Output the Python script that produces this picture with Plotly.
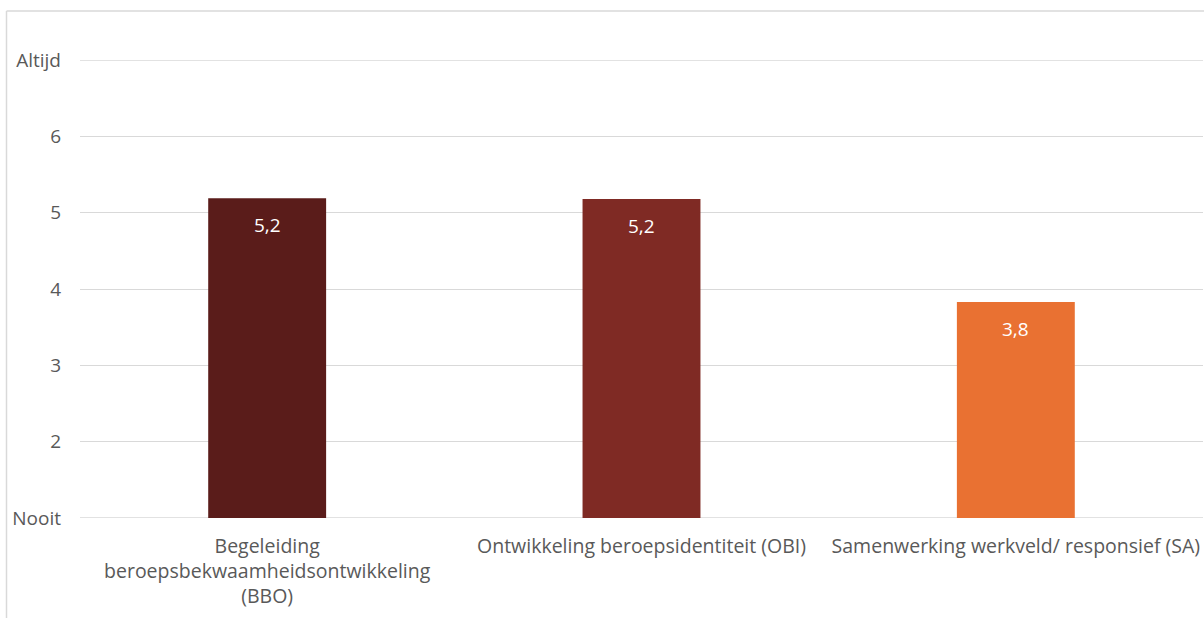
import plotly.graph_objects as go

categories = ["Begeleiding<br>beroepsbekwaamheidsontwikkeling<br>(BBO)",
              "Ontwikkeling beroepsidentiteit (OBI)",
              "Samenwerking werkveld/ responsief (SA)"]
values = [5.19, 5.18, 3.83]
labels = ["5,2", "5,2", "3,8"]
colors = ["#5A1C1A", "#7F2A24", "#E97132"]
tick_vals = [1, 2, 3, 4, 5, 6, 7]
tick_text = ["Nooit", "2", "3", "4", "5", "6", "Altijd"]

W, H = 1204, 618
L, R, T, B = 80, 1, 60, 100

fig = go.Figure(go.Bar(
    x=categories, y=values, marker=dict(color=colors, line=dict(width=0)),
    width=0.315, hoverinfo="x+y",
))

for c, v, t in zip(categories, values, labels):
    fig.add_annotation(x=c, y=v, text=t, showarrow=False, yanchor="middle",
                       yshift=-27, font=dict(color="white", size=19, family="Open Sans"))

pw = W - L - R
ph = H - T - B
def px_x(x):
    return (x - L) / pw
def px_y(y):
    return (H - B - y) / ph

grid_color = "#D9D9D9"
shapes = [
    dict(type="line", xref="paper", yref="paper",
         x0=px_x(6.5), x1=px_x(6.5), y0=px_y(11), y1=px_y(640),
         line=dict(color=grid_color, width=1.5)),
    dict(type="line", xref="paper", yref="paper",
         x0=px_x(6.5), x1=px_x(1210), y0=px_y(11), y1=px_y(11),
         line=dict(color=grid_color, width=1.5)),
]
for yv in (tick_vals[0], tick_vals[-1]):
    shapes.append(dict(type="line", xref="paper", yref="y", x0=0, x1=1, y0=yv, y1=yv,
                       layer="below", line=dict(color=grid_color, width=1.3)))

fig.update_layout(
    width=W, height=H,
    margin=dict(l=L, r=R, t=T, b=B),
    paper_bgcolor="white", plot_bgcolor="white",
    showlegend=False,
    font=dict(family="Open Sans", color="#595959", size=19),
    xaxis=dict(showgrid=False, showline=False, ticks="", ticklabelstandoff=14,
               tickfont=dict(size=19.5, color="#595959")),
    yaxis=dict(range=[1, 7], tickvals=tick_vals, ticktext=tick_text,
               showgrid=True, gridcolor=grid_color, gridwidth=1.3,
               zeroline=False, showline=False, ticks="",
               ticklabelstandoff=18,
               tickfont=dict(size=19, color="#595959")),
    shapes=shapes,
)
fig.write_html(
    "out.html",
    config={"displayModeBar": False},
    post_script="document.body.style.margin='0';document.body.style.overflow='hidden';"
                "document.documentElement.style.overflow='hidden';",
)
